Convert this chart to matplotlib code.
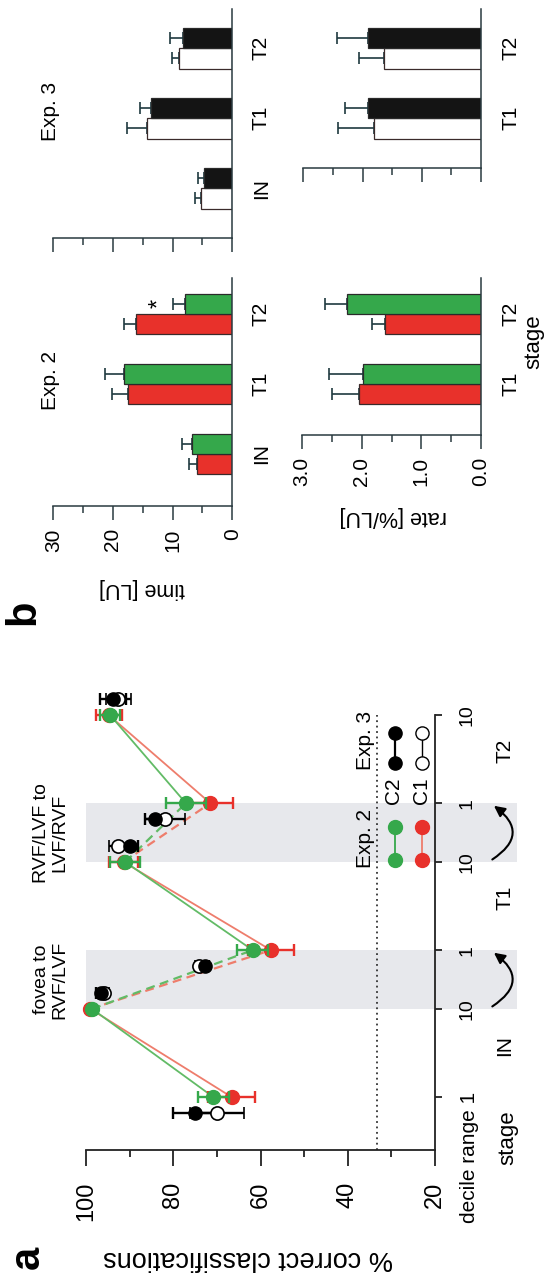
import matplotlib
matplotlib.use('Agg')
import matplotlib.pyplot as plt
from matplotlib.patches import Rectangle, FancyArrowPatch

plt.rcParams['font.family'] = ['Liberation Sans', 'DejaVu Sans']

# ---------------- data: panel a ----------------
stages = ['IN', 'T1', 'T2']
decile_labels = ['1', '10', '1', '10', '1', '10']
# decile-axis positions of (decile 1, decile 10) for IN, T1, T2
pos_exp2 = [0, 9, 15, 24, 30, 39]
pos_exp3 = [-1.6, 10.6, 13.4, 25.6, 28.4, 40.6]
exp2_c2 = [70.8, 98.6, 61.8, 91.0, 77.1, 94.5]
exp2_c2_err = [3.6, 0.6, 3.6, 3.4, 4.5, 2.3]
exp2_c1 = [66.6, 99.0, 57.6, 91.4, 71.5, 94.8]
exp2_c1_err = [5.4, 0.6, 5.3, 3.4, 5.2, 3.0]
exp3_c2 = [75.0, 96.6, 72.8, 90.0, 84.1, 93.8]
exp3_c2_err = [5.1, 1.0, 1.0, 2.0, 2.3, 3.0]
exp3_c1 = [70.0, 95.8, 74.0, 92.6, 81.9, 92.6]
exp3_c1_err = [6.2, 1.0, 1.0, 2.2, 4.6, 2.9]
chance = 33.3
pct_ticks = [20, 40, 60, 80, 100]

# ---------------- data: panel b ----------------
bar_stages = ['IN', 'T1', 'T2']
time_exp2_c1 = [5.9, 17.4, 16.1]
time_exp2_c1_err = [1.4, 2.7, 2.0]
time_exp2_c2 = [6.7, 18.1, 8.0]
time_exp2_c2_err = [1.8, 3.3, 1.9]
time_exp3_c1 = [5.2, 14.3, 8.9]
time_exp3_c1_err = [1.05, 3.4, 1.15]
time_exp3_c2 = [4.7, 13.6, 8.2]
time_exp3_c2_err = [1.0, 1.9, 2.2]
rate_stages = ['T1', 'T2']
rate_exp2_c1 = [2.05, 1.61]
rate_exp2_c1_err = [0.45, 0.22]
rate_exp2_c2 = [1.98, 2.25]
rate_exp2_c2_err = [0.57, 0.36]
rate_exp3_c1 = [1.80, 1.63]
rate_exp3_c1_err = [0.61, 0.43]
rate_exp3_c2 = [1.90, 1.90]
rate_exp3_c2_err = [0.39, 0.53]

GREEN = '#35a84b'
RED = '#e8312b'
GREEN_L = '#62bb66'
RED_L = '#ee7d6c'
SHADE = '#e7e8ec'
AX = '#222222'
ECOL = '#1f3a40'

W, H = 548, 1281
fig = plt.figure(figsize=(W / 100, H / 100), dpi=100)


def rect(x0, y0, x1, y1):
    return [x0 / W, 1 - y1 / H, (x1 - x0) / W, (y1 - y0) / H]


def ftext(x, y, s, **kw):
    fig.text(x / W, 1 - y / H, s, **kw)


# ======================= panel a =======================
ax = fig.add_axes(rect(86, 715, 435, 1150))
ax.set_xlim(100, 20)
ax.set_ylim(-5.4, 39)
ax.patch.set_alpha(0)
ax.spines['top'].set_visible(False)
ax.spines['left'].set_visible(False)
for s in ['bottom', 'right']:
    ax.spines[s].set_linewidth(1.3)
    ax.spines[s].set_color(AX)
ax.set_xticks(pct_ticks)
ax.set_xticklabels([str(t) for t in pct_ticks])
ax.set_xticks([30, 50, 70, 90], minor=True)
ax.tick_params(axis='x', which='major', direction='out', length=11.5, width=1.3,
               pad=11, labelsize=17, labelrotation=90, color=AX)
ax.tick_params(axis='x', which='minor', direction='out', length=5, width=1.3, color=AX)
ax.yaxis.tick_right()
ax.set_yticks(pos_exp2)
ax.set_yticklabels([''] + decile_labels[1:])
ax.tick_params(axis='y', direction='out', length=5, width=1.3, pad=12,
               labelsize=14, labelrotation=90, color=AX)
for l in ax.get_yticklabels():
    l.set_va('center')

# shaded transition zones (extend beyond the axis)
for y0 in (pos_exp2[1], pos_exp2[3]):
    ax.add_patch(Rectangle((1.2, y0), 98.8, 6, facecolor=SHADE, edgecolor='none',
                           zorder=0, clip_on=False))
    arr = FancyArrowPatch((7.4, y0 + 0.1), (7.0, y0 + 5.9),
                          connectionstyle='arc3,rad=0.75', arrowstyle='-|>',
                          mutation_scale=16, lw=1.5, color='black', clip_on=False,
                          zorder=3)
    ax.add_patch(arr)

# chance line
ax.plot([chance, chance], [-5.4, 39], ls=(0, (1, 2)), color='#333333', lw=1.3, zorder=1)

# connecting lines exp 2
for vals, col in ((exp2_c1, RED_L), (exp2_c2, GREEN_L)):
    for i in (0, 2, 4):
        ax.plot(vals[i:i + 2], pos_exp2[i:i + 2], color=col, lw=1.3, zorder=2)
    for i in (1, 3):
        ax.plot(vals[i:i + 2], pos_exp2[i:i + 2], color=col, lw=1.6,
                ls=(0, (4, 2.5)), zorder=2)

# exp 3 points
ax.errorbar(exp3_c1, pos_exp3, xerr=exp3_c1_err, fmt='o', ms=9.5, mfc='white',
            mec='black', mew=1.2, ecolor='black', elinewidth=1.7, capsize=4,
            capthick=1.7, zorder=4, clip_on=False)
ax.errorbar(exp3_c2, pos_exp3, xerr=exp3_c2_err, fmt='o', ms=9.5, mfc='black',
            mec='black', ecolor='black', elinewidth=1.7, capsize=4,
            capthick=1.7, zorder=4, clip_on=False)
# exp 2 points
ax.errorbar(exp2_c1, pos_exp2, xerr=exp2_c1_err, fmt='o', ms=10, color=RED,
            ecolor=RED, elinewidth=1.7, capsize=4, capthick=1.7, zorder=5,
            clip_on=False)
ax.errorbar(exp2_c2, pos_exp2, xerr=exp2_c2_err, fmt='o', ms=10, color=GREEN,
            ecolor=GREEN, elinewidth=1.7, capsize=4, capthick=1.7, zorder=6,
            clip_on=False)

# legend (drawn manually inside the axes)
ax.plot([29.2, 29.2], [24.2, 27.55], '-o', color=GREEN, mfc=GREEN, ms=10, lw=1.3, zorder=5)
ax.plot([23.0, 23.0], [24.2, 27.55], '-o', color=RED_L, mfc=RED, mec=RED, ms=10, lw=1.3, zorder=5)
ax.plot([29.2, 29.2], [34.1, 37.2], '-o', color='black', ms=9.5, lw=1.6, zorder=5)
ax.plot([23.0, 23.0], [34.1, 37.2], '-o', color='black', mfc='white', ms=9.5, lw=1.0, zorder=5)
ax.text(36.0, 26.4, 'Exp. 2', rotation=90, ha='center', va='center', fontsize=15)
ax.text(36.0, 36.4, 'Exp. 3', rotation=90, ha='center', va='center', fontsize=15)
ax.text(29.5, 31.3, 'C2', rotation=90, ha='center', va='center', fontsize=15)
ax.text(23.0, 31.3, 'C1', rotation=90, ha='center', va='center', fontsize=15)

# stage labels
for i, s in enumerate(stages):
    ax.text(4.0, pos_exp2[2 * i] + 5.3, s, rotation=90, ha='center', va='center', fontsize=15)
ax.text(3.3, -4.1, 'stage', rotation=90, ha='center', va='center', fontsize=16)
ax.text(12.2, 0.5, 'decile range ' + decile_labels[0], rotation=90, ha='center',
        va='top', fontsize=15)

# transition annotations
ax.text(108.2, 12.0, 'fovea to\nRVF/LVF', rotation=90, ha='center', va='center',
        fontsize=14, multialignment='center', linespacing=1.1)
ax.text(108.2, 27.0, 'RVF/LVF to\nLVF/RVF', rotation=90, ha='center', va='center',
        fontsize=14, multialignment='center', linespacing=1.1)

ftext(248, 1258, '% correct classifications', rotation=180, ha='center', va='center',
      fontsize=19.5)
ftext(28, 1257, 'a', rotation=90, ha='center', va='center', fontsize=30, fontweight='bold')

# ======================= panel b =======================
HB = 0.29


def bar_panel(rect_px, ylim, cats, c1, c1e, c2, c2e, c1col, c2col, xmax, major,
              minor, labels, catlabels_pad):
    a = fig.add_axes(rect(*rect_px))
    a.set_xlim(xmax, 0)
    a.set_ylim(*ylim)
    a.patch.set_alpha(0)
    a.spines['top'].set_visible(False)
    a.spines['left'].set_visible(False)
    for s in ['bottom', 'right']:
        a.spines[s].set_linewidth(1.1)
        a.spines[s].set_color('#2a3a40')
    n = len(cats)
    base = [3 - n + i for i in range(n)]
    yc1 = [b - HB / 2 for b in base]
    yc2 = [b + HB / 2 for b in base]
    a.errorbar(c1, yc1, xerr=[[0] * n, c1e], fmt='none', ecolor=ECOL, elinewidth=1.2,
               capsize=4, capthick=1.2, zorder=1)
    a.errorbar(c2, yc2, xerr=[[0] * n, c2e], fmt='none', ecolor=ECOL, elinewidth=1.2,
               capsize=4, capthick=1.2, zorder=1)
    a.barh(yc1, c1, height=HB, color=c1col, edgecolor='#3a2a2a', linewidth=0.9, zorder=2)
    a.barh(yc2, c2, height=HB, color=c2col, edgecolor='#2a2a2a', linewidth=0.9, zorder=2)
    a.set_xticks(major)
    a.set_xticks(minor, minor=True)
    if labels is None:
        a.set_xticklabels([''] * len(major))
    else:
        a.set_xticklabels(labels)
    a.tick_params(axis='x', which='major', direction='out', length=10, width=1.1,
                  pad=6, labelsize=15, labelrotation=90, color='#2a3a40')
    a.tick_params(axis='x', which='minor', direction='out', length=5, width=1.1,
                  color='#2a3a40')
    a.yaxis.tick_right()
    a.set_yticks(base)
    a.set_yticklabels(cats)
    a.tick_params(axis='y', length=0, pad=catlabels_pad, labelsize=15, labelrotation=90)
    for l in a.get_yticklabels():
        l.set_va('center')
    return a


ylim_full3 = (-0.714, 2.557)
ylim_full2 = (-0.743, 2.521)
axt3 = bar_panel((53.3, 9.3, 232.3, 238.3), ylim_full3, bar_stages, time_exp3_c1,
                 time_exp3_c1_err, time_exp3_c2, time_exp3_c2_err, 'white', '#141414',
                 30, [0, 10, 20, 30], [5, 15, 25], None, 14)
axt2 = bar_panel((53.3, 277.5, 232.3, 506), ylim_full2, bar_stages, time_exp2_c1,
                 time_exp2_c1_err, time_exp2_c2, time_exp2_c2_err, RED, GREEN,
                 30, [0, 10, 20, 30], [5, 15, 25], ['0', '10', '20', '30'], 14)
axr3 = bar_panel((303.3, 9.3, 481, 168.3), (0.286, 2.557), rate_stages, rate_exp3_c1,
                 rate_exp3_c1_err, rate_exp3_c2, rate_exp3_c2_err, 'white', '#141414',
                 3.0, [0, 1, 2, 3], [0.5, 1.5, 2.5], None, 15)
axr2 = bar_panel((302, 277.5, 481, 434.7), (0.276, 2.521), rate_stages, rate_exp2_c1,
                 rate_exp2_c1_err, rate_exp2_c2, rate_exp2_c2_err, RED, GREEN,
                 3.0, [0, 1, 2, 3], [0.5, 1.5, 2.5], ['0.0', '1.0', '2.0', '3.0'], 15)

axt2.text(12.2, 2.153, '*', rotation=90, ha='center', va='center', fontsize=17)

ftext(50, 380, 'Exp. 2', rotation=90, ha='center', va='center', fontsize=15)
ftext(50, 111, 'Exp. 3', rotation=90, ha='center', va='center', fontsize=15)
ftext(142, 588, 'time [LU]', rotation=180, ha='center', va='center', fontsize=15.5)
ftext(393, 516, 'rate [%/LU]', rotation=180, ha='center', va='center', fontsize=15.5)
ftext(534, 342, 'stage', rotation=90, ha='center', va='center', fontsize=16)
ftext(23, 612, 'b', rotation=90, ha='center', va='center', fontsize=30, fontweight='bold')

fig.savefig('out.png', dpi=100)
